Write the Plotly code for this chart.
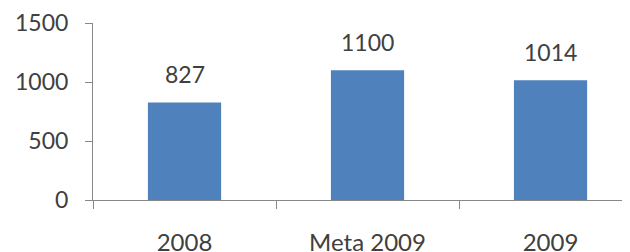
import plotly.graph_objects as go

categories = ["2008", "Meta 2009", "2009"]
values = [827, 1100, 1014]
y_ticks = [0, 500, 1000, 1500]

font_family = "Lato, Carlito, Calibri, sans-serif"
text_color = "#404040"
axis_color = "#888888"
bar_color = "#4F81BD"

fig = go.Figure()
fig.add_trace(go.Bar(x=categories, y=values, marker=dict(color=bar_color, line=dict(width=0)),
                     width=0.4))

for i, v in enumerate(values):
    fig.add_annotation(x=i, y=v, text=str(v), showarrow=False, yanchor="bottom",
                       yshift=12, font=dict(family=font_family, size=23, color=text_color))

fig.update_layout(
    width=630, height=252,
    margin=dict(l=85, r=0, t=15, b=60, autoexpand=False),
    paper_bgcolor="white", plot_bgcolor="white",
    showlegend=False,
    font=dict(family=font_family, size=23, color=text_color),
)
fig.update_xaxes(
    type="category", automargin=False,
    range=[-0.5, 2.478],
    showline=True, linecolor=axis_color, linewidth=1,
    ticks="outside", tickson="boundaries", ticklen=8, tickcolor=axis_color,
    showgrid=False, zeroline=False,
    tickfont=dict(size=24),
    ticklabelstandoff=21,
)
fig.update_yaxes(
    automargin=False,
    range=[0, 1500], tickvals=y_ticks,
    showline=True, linecolor=axis_color, linewidth=1,
    ticks="outside", ticklen=7, tickcolor=axis_color,
    showgrid=False, zeroline=False,
    ticklabelstandoff=12,
)

fig.write_html("out.html")
